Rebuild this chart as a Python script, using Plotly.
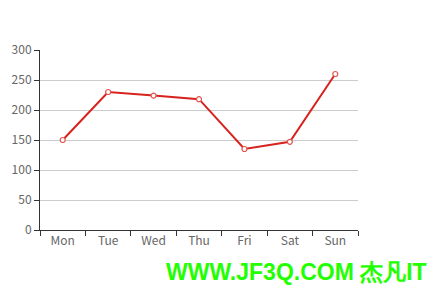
import plotly.graph_objects as go

days = ["Mon", "Tue", "Wed", "Thu", "Fri", "Sat", "Sun"]
values = [150, 230, 224, 218, 135, 147, 260]
watermark = "WWW.JF3Q.COM 杰凡IT"

fig = go.Figure()
fig.add_trace(go.Scatter(
    x=days, y=values, mode="lines+markers",
    line=dict(color="#d8221d", width=2),
    marker=dict(symbol="circle", size=5, color="white",
                line=dict(color="#e25550", width=1.2)),
    showlegend=False, cliponaxis=False,
))

font = "Noto Sans CJK SC, Microsoft YaHei, sans-serif"
L, R, T, B = 38, 87, 50, 60
PW = 445 - L - R
PH = 290 - T - B
fig.update_layout(
    width=445, height=290,
    margin=dict(l=L, r=R, t=T, b=B),
    paper_bgcolor="white", plot_bgcolor="white",
    font=dict(family=font, size=12, color="#666"),
    xaxis=dict(
        type="category", range=[-0.5, 6.5], tickson="boundaries",
        ticks="outside", ticklen=5, tickcolor="#333", tickwidth=1,
        showline=True, linecolor="#333", linewidth=1,
        showgrid=False, zeroline=False,
        tickfont=dict(family=font, size=12, color="#666"),
    ),
    yaxis=dict(
        range=[0, 300], dtick=50, tick0=0,
        ticks="outside", ticklen=5, tickcolor="#333", tickwidth=1,
        showline=True, linecolor="#333", linewidth=1,
        showgrid=True, gridcolor="#ccc", gridwidth=1,
        zeroline=False,
        tickfont=dict(family=font, size=12, color="#666"),
    ),
    annotations=[dict(
        text=watermark, xref="paper", yref="paper",
        x=(429 - L) / PW, y=(290 - 271.5 - B) / PH,
        xanchor="right", yanchor="middle",
        showarrow=False,
        font=dict(family="Liberation Sans, Arial, sans-serif", size=23,
                  color="#22ff00", weight="bold"),
    )],
)

fig.write_html("out.html")
